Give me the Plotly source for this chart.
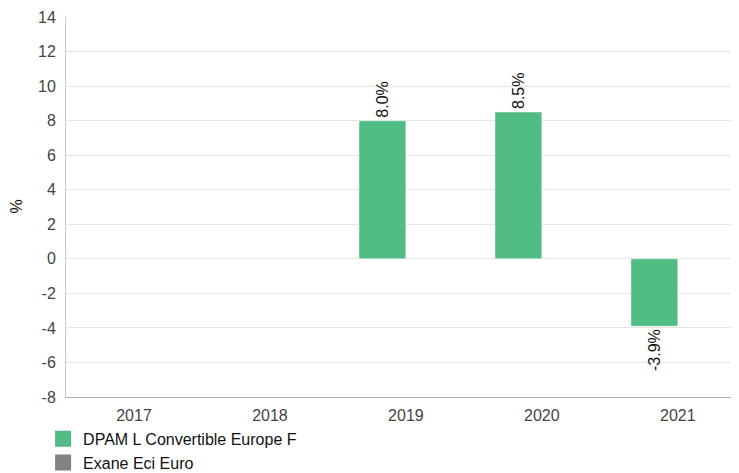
import plotly.graph_objects as go

years = ["2017", "2018", "2019", "2020", "2021"]
fund_name = "DPAM L Convertible Europe F"
fund_values = [None, None, 8.0, 8.5, -3.9]
bench_name = "Exane Eci Euro"
bench_values = [None, None, None, None, None]
y_ticks = [-8, -6, -4, -2, 0, 2, 4, 6, 8, 10, 12, 14]

green = "#50bc84"
grey = "#808285"

fig = go.Figure()
fig.add_trace(go.Bar(
    x=years, y=fund_values, name=fund_name, showlegend=False, legendgroup="f",
    marker=dict(color=green, line=dict(color="rgba(255,255,255,0.5)", width=1)),
    text=[None if v is None else f"{v:.1f}%" for v in fund_values],
    textposition="outside", textangle=-90, cliponaxis=False,
    constraintext="none",
    textfont=dict(family="Liberation Sans, Arial", size=16, color="#111"),
))
fig.add_trace(go.Bar(
    x=years, y=bench_values, name=bench_name, showlegend=False, legendgroup="b",
    marker=dict(color=grey),
))
# legend entries (square swatches)
for nm, col, grp in [(fund_name, green, "f"), (bench_name, grey, "b")]:
    fig.add_trace(go.Scatter(
        x=[None], y=[None], mode="markers", name=nm, legendgroup=grp,
        marker=dict(symbol="square", size=19, color=col),
    ))

fig.update_layout(
    width=731, height=465,
    margin=dict(l=58, r=0, t=9, b=76, autoexpand=False),
    paper_bgcolor="white", plot_bgcolor="white",
    barmode="group", bargap=0.31, bargroupgap=0,
    font=dict(family="Liberation Sans, Arial", size=16, color="#333"),
    showlegend=True,
    legend=dict(
        orientation="v", xref="container", yref="container",
        x=0.048, y=0.11, xanchor="left", yanchor="top",
        font=dict(size=16, color="#111"), tracegroupgap=0,
    ),
    annotations=[dict(
        text="%", xref="paper", yref="paper", x=-0.075, y=0.5,
        xanchor="center", yanchor="middle", textangle=-90, showarrow=False,
        font=dict(size=16, color="#111"),
    )],
)
fig.update_xaxes(
    type="category", range=[-0.5, 4.45],
    showgrid=False, showline=True, linecolor="#b0b0b0", linewidth=1,
    ticks="", ticklabelstandoff=4, tickfont=dict(size=16, color="#444"),
)
fig.update_yaxes(
    range=[-8, 14], tickvals=y_ticks, ticktext=[str(t) for t in y_ticks],
    showgrid=True, gridcolor="#e6e6e6", gridwidth=1,
    zeroline=False, showline=True, linecolor="#cccccc", linewidth=1,
    ticks="", ticklabelstandoff=6, tickfont=dict(size=16, color="#444"),
)

fig.write_html("out.html")
